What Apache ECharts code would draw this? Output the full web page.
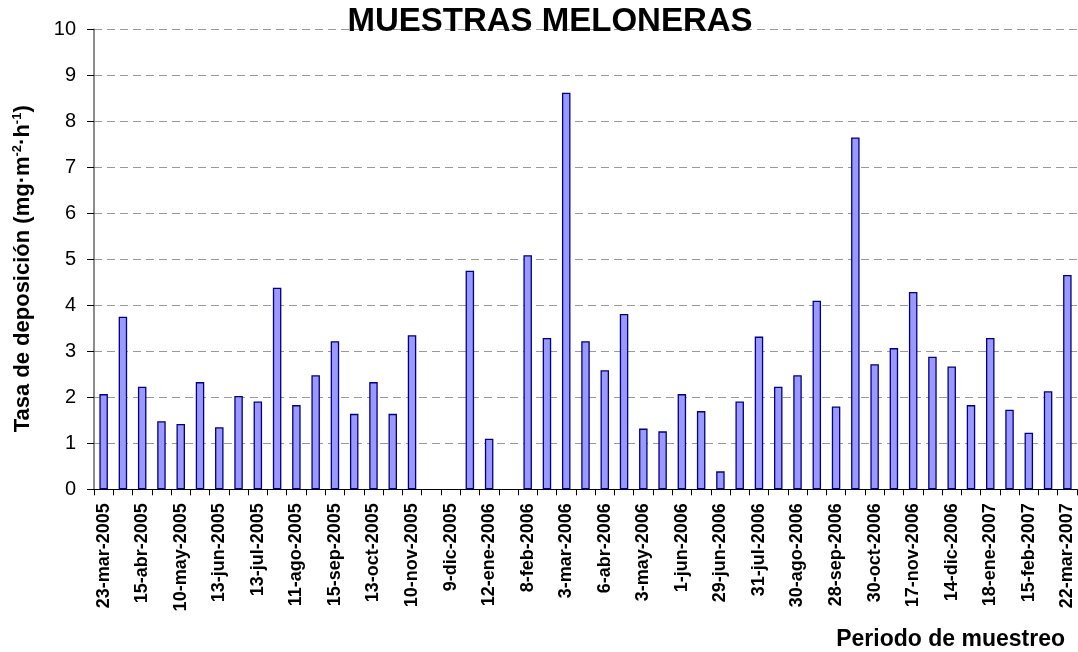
<!DOCTYPE html>
<html>
<head>
<meta charset="utf-8">
<script src="https://cdn.jsdelivr.net/npm/echarts@6/dist/echarts.min.js"></script>
<style>
  html, body { margin: 0; padding: 0; background: #fff; }
  #chart { width: 1078px; height: 652px; }
</style>
</head>
<body>
<div id="chart"></div>
<script>
// labelled sampling dates (every other category carries a label)
const tickLabels = ['23-mar-2005', '15-abr-2005', '10-may-2005', '13-jun-2005', '13-jul-2005',
  '11-ago-2005', '15-sep-2005', '13-oct-2005', '10-nov-2005', '9-dic-2005', '12-ene-2006',
  '8-feb-2006', '3-mar-2006', '6-abr-2006', '3-may-2006', '1-jun-2006', '29-jun-2006',
  '31-jul-2006', '30-ago-2006', '28-sep-2006', '30-oct-2006', '17-nov-2006', '14-dic-2006',
  '18-ene-2007', '15-feb-2007', '22-mar-2007']

// deposition rate per sampling period (null = no sample)
const deposicion = [2.07, 3.75, 2.23, 1.48, 1.42, 2.33, 1.35, 2.03, 1.91, 4.38,
  1.83, 2.48, 3.22, 1.64, 2.33, 1.64, 3.35, null, null, 4.75,
  1.10, null, 5.09, 3.29, 8.62, 3.22, 2.59, 3.81, 1.32, 1.26,
  2.07, 1.70, 0.39, 1.91, 3.32, 2.23, 2.48, 4.10, 1.80, 7.65,
  2.72, 3.07, 4.29, 2.88, 2.67, 1.83, 3.29, 1.73, 1.23, 2.13, 4.66]

const yTicks = [0, 1, 2, 3, 4, 5, 6, 7, 8, 9, 10]

// odd categories have no visible label
const categories = deposicion.map((v, i) => (i % 2 === 0 ? tickLabels[i / 2] : ''))

const font = '"Liberation Sans", Arial, sans-serif'
const chart = echarts.init(document.getElementById('chart'))

chart.setOption({
  animation: false,
  textStyle: { fontFamily: font },
  title: {
    text: 'MUESTRAS MELONERAS',
    left: 550,
    textAlign: 'center',
    top: 5,
    padding: 0,
    textStyle: { fontFamily: font, fontSize: 33, fontWeight: 'bold', color: '#000' }
  },
  grid: {
    left: 94,
    right: 1,
    top: 29.3,
    bottom: 162.7,
    containLabel: false,
    outerBoundsMode: 'none'
  },
  xAxis: {
    type: 'category',
    data: categories,
    name: 'Periodo de muestreo',
    nameLocation: 'end',
    nameGap: -12,
    nameTextStyle: {
      fontFamily: font,
      fontSize: 23,
      fontWeight: 'bold',
      color: '#000',
      align: 'right',
      verticalAlign: 'top',
      padding: [139, 0, 0, 0]
    },
    axisLine: { lineStyle: { color: '#000', width: 1 } },
    axisTick: { show: true, interval: 0, length: 6, lineStyle: { color: '#000' } },
    axisLabel: {
      interval: 1,
      rotate: 90,
      margin: 14,
      fontFamily: font,
      fontSize: 18,
      fontWeight: 'bold',
      color: '#000'
    },
    splitLine: { show: false }
  },
  yAxis: {
    type: 'value',
    min: yTicks[0],
    max: yTicks[yTicks.length - 1],
    interval: 1,
    name: 'Tasa de deposición (mg·m{sup|-2}·h{sup|-1})',
    nameLocation: 'middle',
    nameGap: 57,
    nameRotate: 90,
    nameTextStyle: {
      fontFamily: font,
      fontSize: 22,
      fontWeight: 'bold',
      color: '#000',
      lineHeight: 28,
      padding: [0, 19, 0, 0],
      rich: {
        sup: {
          fontFamily: font,
          fontSize: 13,
          fontWeight: 'bold',
          color: '#000',
          lineHeight: 13,
          verticalAlign: 'top',
          padding: [2, 0, 0, 0]
        }
      }
    },
    axisLine: { show: true, lineStyle: { color: '#666', width: 1.5 } },
    axisTick: { show: true, length: 7, lineStyle: { color: '#000' } },
    axisLabel: { margin: 18, fontFamily: font, fontSize: 20, color: '#000' },
    splitLine: { show: true, lineStyle: { color: '#999', width: 1, type: [8, 5] } }
  },
  series: [{
    type: 'bar',
    data: deposicion,
    barWidth: 8.5,
    itemStyle: { color: '#9999FF', borderColor: '#000080', borderWidth: 1.3 }
  }]
})
</script>
</body>
</html>
